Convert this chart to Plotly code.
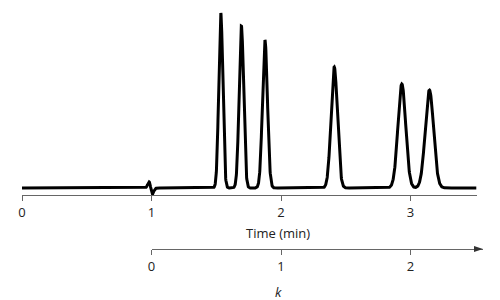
import numpy as np
import plotly.graph_objects as go

# Peak data (time in min, height in detector units, sigma in min)
peak_times = [1.535, 1.694, 1.876, 2.411, 2.933, 3.146]
peak_heights = [175, 162, 148, 121, 104, 98]
peak_sigmas = [0.0157, 0.0173, 0.0191, 0.0246, 0.0300, 0.0321]

# Unretained-solute disturbance at the dead time t0
dead_time = 0.994
dead_amp = 10
dead_sigma = 0.013

time_ticks = [0, 1, 2, 3]
k_ticks = [0, 1, 2]
t_end = 3.51

t = np.linspace(0, t_end, 3000)
y = np.zeros_like(t)
for tr, h, s in zip(peak_times, peak_heights, peak_sigmas):
    y += h * np.exp(-0.5 * ((t - tr) / s) ** 2)
z = (t - dead_time) / dead_sigma
y += -dead_amp * z * np.exp(-0.5 * z ** 2)

W, H = 500, 300
ml, mr, mt, mb = 22, 10, 5, 51
pw, ph = W - ml - mr, H - mt - mb
px_per_min = 129.5

x1_end = t_end * px_per_min / pw
k0_px = 1 * px_per_min  # k = 0 at t = t0 (1 min)
k_dom0 = k0_px / pw
k_dom1 = (483 - ml) / pw
k_max = (k_dom1 - k_dom0) * pw / px_per_min

axis_y_px = 195
time_axis_pos = (H - mb - axis_y_px) / ph

font = dict(family="Open Sans", size=13, color="#222")
axcol = "#666"

def py(px):
    return (H - mb - px) / ph

def pxx(px):
    return (px - ml) / pw

fig = go.Figure()
fig.add_trace(go.Scatter(x=t, y=y, mode="lines",
                         line=dict(color="black", width=3), hoverinfo="skip",
                         showlegend=False))
# invisible trace to activate k axis
fig.add_trace(go.Scatter(x=[0], y=[0], xaxis="x2", yaxis="y", mode="markers",
                         marker=dict(opacity=0), showlegend=False, hoverinfo="skip"))

arrow_tip = k_dom1
arrow_base = pxx(474)
hh = 3 / ph

fig.update_layout(
    width=W, height=H,
    margin=dict(l=ml, r=mr, t=mt, b=mb),
    paper_bgcolor="white", plot_bgcolor="rgba(0,0,0,0)",
    font=font,
    xaxis=dict(domain=[0, x1_end], range=[0, t_end], anchor="free",
               position=time_axis_pos, tickvals=time_ticks,
               ticks="outside", ticklen=5, tickcolor=axcol,
               showline=True, linecolor=axcol, linewidth=1,
               showgrid=False, zeroline=False, automargin=False),
    xaxis2=dict(domain=[k_dom0, k_dom1], range=[0, k_max], anchor="free",
                position=0, tickvals=k_ticks,
                ticks="outside", ticklen=5, tickcolor=axcol,
                showline=True, linecolor=axcol, linewidth=1,
                showgrid=False, zeroline=False, automargin=False),
    yaxis=dict(range=[-61, 183], visible=False, showgrid=False, zeroline=False),
    shapes=[dict(type="path", xref="paper", yref="paper",
                 path=f"M {arrow_tip},0 L {arrow_base},{hh} L {arrow_base},{-hh} Z",
                 fillcolor="#333", line=dict(width=0))],
    annotations=[
        dict(text="Time (min)", xref="paper", yref="paper", x=pxx(278), y=py(233),
             xanchor="center", yanchor="middle", showarrow=False, font=font),
        dict(text="<i>k</i>", xref="paper", yref="paper", x=pxx(278), y=py(292),
             xanchor="center", yanchor="middle", showarrow=False, font=font),
    ],
)

fig.write_html("out.html")
